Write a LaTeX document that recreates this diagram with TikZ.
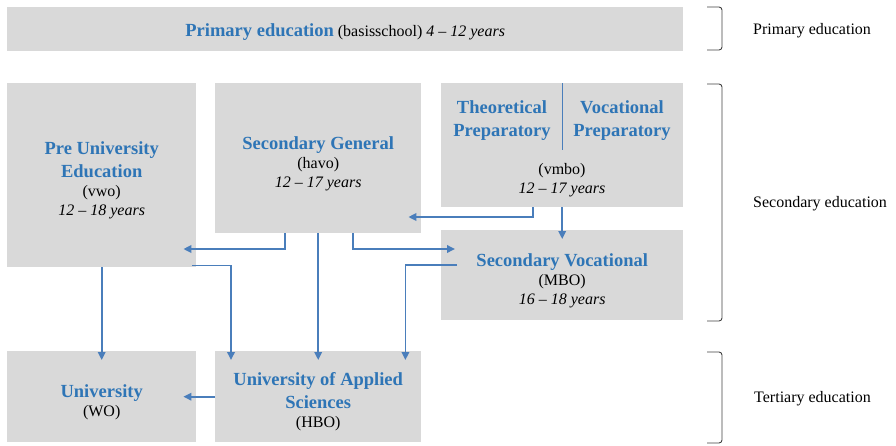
\documentclass[tikz,border=0pt]{standalone}
\usepackage{fontspec}
\setmainfont{Liberation Serif}
\usetikzlibrary{arrows.meta}
\definecolor{boxgray}{HTML}{D9D9D9}
\definecolor{titleblue}{HTML}{2E75B6}
\definecolor{linkblue}{HTML}{4A7EBB}
\definecolor{bracketgray}{HTML}{404040}
\newcommand{\edutitle}[1]{{\color{titleblue}\bfseries\fontsize{18.5}{23}\selectfont #1}}
\newcommand{\topgap}[1]{\rule{0pt}{#1}}
\tikzset{
	edubox/.style={fill=boxgray,anchor=north west,inner sep=0pt,align=center,font=\fontsize{16}{19}\selectfont},
	link/.style={draw=linkblue,line width=1.8pt,-{Triangle[length=8pt,width=7.5pt]}},
	bracket/.style={draw=bracketgray,line width=0.9pt,rounded corners=3pt},
	tag/.style={anchor=west,inner sep=0pt,font=\fontsize{16}{19}\selectfont}
}
\begin{document}
\begin{tikzpicture}[x=1pt,y=-1pt]
			\useasboundingbox(0,0)rectangle(896,445);
			% boxes
			\node[edubox,minimum width=676pt,minimum height=44pt](primary)at(7,7)
				{\topgap{18pt}\edutitle{Primary education} (basisschool) \textit{4 -- 12 years}};
			\node[edubox,minimum width=189pt,minimum height=184pt](preuni)at(7,83)
				{\topgap{23pt}\edutitle{Pre University}\\[4pt]\edutitle{Education}\\(vwo)\\\textit{12 -- 18 years}};
			\node[edubox,minimum width=206pt,minimum height=150pt](secgen)at(215,83)
				{\topgap{24pt}\edutitle{Secondary General}\\(havo)\\\textit{12 -- 17 years}};
			\node[edubox,minimum width=242pt,minimum height=124pt](vmbo)at(441,83){};
			\node[edubox,minimum width=242pt,minimum height=90pt](secvoc)at(441,230)
				{\topgap{24pt}\edutitle{Secondary Vocational}\\(MBO)\\\textit{16 -- 18 years}};
			\node[edubox,minimum width=189pt,minimum height=91pt](uni)at(7,351)
				{\topgap{24pt}\edutitle{University}\\(WO)};
			\node[edubox,minimum width=206pt,minimum height=91pt](uas)at(215,351)
				{\topgap{22pt}\edutitle{University of Applied}\\[4pt]\edutitle{Sciences}\\(HBO)};
			% vmbo contents
			\draw[linkblue,line width=0.9pt](vmbo.north)--++(0,67);
			\node[align=center,inner sep=0pt,font=\fontsize{16}{19}\selectfont](theo)at(502,121)
				{\edutitle{Theoretical}\\[4pt]\edutitle{Preparatory}};
			\node[align=center,inner sep=0pt,font=\fontsize{16}{19}\selectfont](voc)at(622,121)
				{\edutitle{Vocational}\\[4pt]\edutitle{Preparatory}};
			\node[align=center,inner sep=0pt,font=\fontsize{16}{19}\selectfont](vmbotext)at(562,180)
				{(vmbo)\\\textit{12 -- 17 years}};
			% pathways
			\draw[link]([xshift=-33pt]secgen.south)|-([xshift=-13pt]preuni.east|-0,249);
			\draw[link]([xshift=35pt]secgen.south)|-([xshift=14pt]secvoc.west|-0,249);
			\draw[link]([xshift=-29pt]vmbo.south)|-([xshift=-13pt]secgen.east|-0,217);
			\draw[link](vmbo.south)--([yshift=-9pt]secvoc.north);
			\draw[link]([xshift=-4pt,yshift=2pt]preuni.south east)-|([xshift=16pt,yshift=-9pt]uas.north west);
			\draw[link]([xshift=16pt]secvoc.west|-0,265)-|([xshift=-16pt,yshift=-9pt]uas.north east);
			\draw[link](preuni.south)--([yshift=-9pt]uni.north);
			\draw[link](secgen.south)--([yshift=-9pt]uas.north);
			\draw[link](uas.west)--([xshift=-13pt]uni.east);
			% levels
			\draw[bracket](707,7)-|(722,50)--(707,50);
			\draw[bracket](707,84)-|(722,321)--(707,321);
			\draw[bracket](707,352)-|(722,443)--(707,443);
			\node[tag](primarytag)at(753,31){Primary education};
			\node[tag](secondarytag)at(753,204){Secondary education};
			\node[tag](tertiarytag)at(754,399){Tertiary education};
		\end{tikzpicture}
\end{document}
